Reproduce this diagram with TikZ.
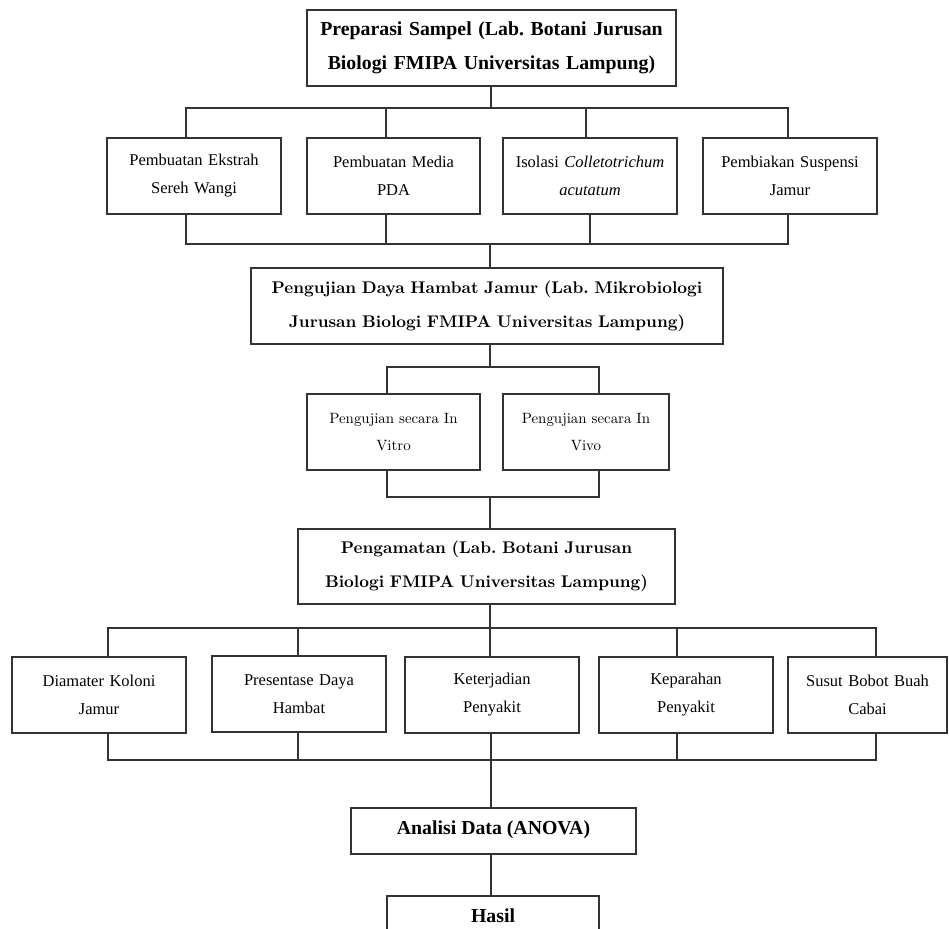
\documentclass[tikz,border=0pt]{standalone}
\usepackage{fontspec}
\setmainfont{Liberation Serif}
\newfontfamily\lmfont{lmroman10}[Extension=.otf, UprightFont=*-regular, BoldFont=*-bold, ItalicFont=*-italic, BoldItalicFont=*-bolditalic]
\begin{document}
\frenchspacing
\begin{tikzpicture}[x=1pt,y=-1pt,
  box/.style={draw=black!80, line width=1.2pt, inner sep=0pt, align=center, anchor=center},
  tnr/.style={font=\fontsize{16.5}{28}\selectfont},
  tnrb/.style={font=\fontsize{19.8}{34}\selectfont\bfseries},
  lmb/.style={font=\lmfont\fontsize{16.9}{34}\selectfont\bfseries},
  lmr/.style={font=\lmfont\fontsize{14.9}{27}\selectfont},
  conn/.style={draw=black!80, line width=1.2pt}]
\useasboundingbox[fill=white] (0,0) rectangle (949,928);

% level 1
\node[box,tnrb,minimum width=369pt,minimum height=76pt,text width=360pt] (prep) at (491.5,48)
  {Preparasi Sampel (Lab. Botani Jurusan\\Biologi FMIPA Universitas Lampung)};

% row 1
\node[box,tnr,minimum width=174pt,minimum height=76pt,text width=166pt] (r1a) at (194,176) {Pembuatan Ekstrah\\Sereh Wangi};
\node[box,tnr,minimum width=173pt,minimum height=76pt,text width=166pt] (r1b) at (393.5,176) {Pembuatan Media\\PDA};
\node[box,tnr,minimum width=174pt,minimum height=76pt,text width=166pt] (r1c) at (590,176) {Isolasi \textit{Colletotrichum}\\\textit{acutatum}};
\node[box,tnr,minimum width=174pt,minimum height=76pt,text width=166pt] (r1d) at (790,176) {Pembiakan Suspensi\\Jamur};

% level 2
\node[box,lmb,minimum width=472pt,minimum height=76pt,text width=466pt] (uji) at (487,306)
  {Pengujian Daya Hambat Jamur (Lab. Mikrobiologi\\Jurusan Biologi FMIPA Universitas Lampung)};

\node[box,lmr,minimum width=173pt,minimum height=76pt,text width=166pt] (vitro) at (393.5,432) {Pengujian secara In\\Vitro};
\node[box,lmr,minimum width=166pt,minimum height=76pt,text width=160pt] (vivo) at (586,432) {Pengujian secara In\\Vivo};

% level 3
\node[box,lmb,minimum width=377pt,minimum height=75pt,text width=370pt] (amat) at (486.5,566.5)
  {Pengamatan (Lab. Botani Jurusan\\Biologi FMIPA Universitas Lampung)};

% row 3
\node[box,tnr,minimum width=174pt,minimum height=76pt,text width=166pt] (r3a) at (99,695) {Diamater Koloni\\Jamur};
\node[box,tnr,minimum width=174pt,minimum height=76pt,text width=166pt] (r3b) at (299,694) {Presentase Daya\\Hambat};
\node[box,tnr,minimum width=174pt,minimum height=76pt,text width=166pt] (r3c) at (492,695) {Keterjadian\\Penyakit};
\node[box,tnr,minimum width=174pt,minimum height=76pt,text width=166pt] (r3d) at (686,695) {Keparahan\\Penyakit};
\node[box,tnr,minimum width=159pt,minimum height=76pt,text width=154pt] (r3e) at (867.5,695) {Susut Bobot Buah\\Cabai};

% bottom
\node[box,tnrb,minimum width=285pt,minimum height=46pt,text height=13pt,text depth=7pt] (anova) at (493.5,831) {Analisi Data (ANOVA)};
\node[box,tnrb,minimum width=212pt,minimum height=46pt,text height=13pt,text depth=7pt] (hasil) at (493,919) {Hasil};

% junction coordinates
\coordinate (t1) at (491,108);
\coordinate (t1a) at (186,108); \coordinate (t1b) at (386,108);
\coordinate (t1c) at (586,108); \coordinate (t1d) at (788,108);
\coordinate (u1) at (490,244);
\coordinate (u1a) at (186,244); \coordinate (u1b) at (386,244);
\coordinate (u1c) at (590,244); \coordinate (u1d) at (788,244);
\coordinate (v1) at (490,367);
\coordinate (v1a) at (387,367); \coordinate (v1b) at (599,367);
\coordinate (w1) at (490,497);
\coordinate (w1a) at (387,497); \coordinate (w1b) at (599,497);
\coordinate (x1) at (490,628);
\coordinate (x1a) at (108,628); \coordinate (x1b) at (298,628);
\coordinate (x1d) at (677,628); \coordinate (x1e) at (876,628);
\coordinate (y1) at (491,760);
\coordinate (y1a) at (108,760); \coordinate (y1b) at (298,760);
\coordinate (y1d) at (677,760); \coordinate (y1e) at (876,760);

% connectors level 1 -> row 1
\draw[conn] (t1 |- prep.south) -- (t1);
\draw[conn] (t1a |- r1a.north) -- (t1a) -- (t1d) -- (t1d |- r1d.north);
\draw[conn] (t1b) -- (t1b |- r1b.north);
\draw[conn] (t1c) -- (t1c |- r1c.north);
% row 1 -> uji
\draw[conn] (u1a |- r1a.south) -- (u1a) -- (u1d) -- (u1d |- r1d.south);
\draw[conn] (u1b |- r1b.south) -- (u1b);
\draw[conn] (u1c |- r1c.south) -- (u1c);
\draw[conn] (u1) -- (u1 |- uji.north);
% uji -> vitro/vivo
\draw[conn] (v1 |- uji.south) -- (v1);
\draw[conn] (v1a |- vitro.north) -- (v1a) -- (v1b) -- (v1b |- vivo.north);
% vitro/vivo -> amat
\draw[conn] (w1a |- vitro.south) -- (w1a) -- (w1b) -- (w1b |- vivo.south);
\draw[conn] (w1) -- (w1 |- amat.north);
% amat -> row 3
\draw[conn] (x1 |- amat.south) -- (x1);
\draw[conn] (x1a |- r3a.north) -- (x1a) -- (x1e) -- (x1e |- r3e.north);
\draw[conn] (x1b) -- (x1b |- r3b.north);
\draw[conn] (x1) -- (x1 |- r3c.north);
\draw[conn] (x1d) -- (x1d |- r3d.north);
% row 3 -> anova
\draw[conn] (y1a |- r3a.south) -- (y1a) -- (y1e) -- (y1e |- r3e.south);
\draw[conn] (y1b |- r3b.south) -- (y1b);
\draw[conn] (y1 |- r3c.south) -- (y1);
\draw[conn] (y1d |- r3d.south) -- (y1d);
\draw[conn] (y1) -- (y1 |- anova.north);
% anova -> hasil
\draw[conn] (y1 |- anova.south) -- (y1 |- hasil.north);
\end{tikzpicture}
\end{document}
